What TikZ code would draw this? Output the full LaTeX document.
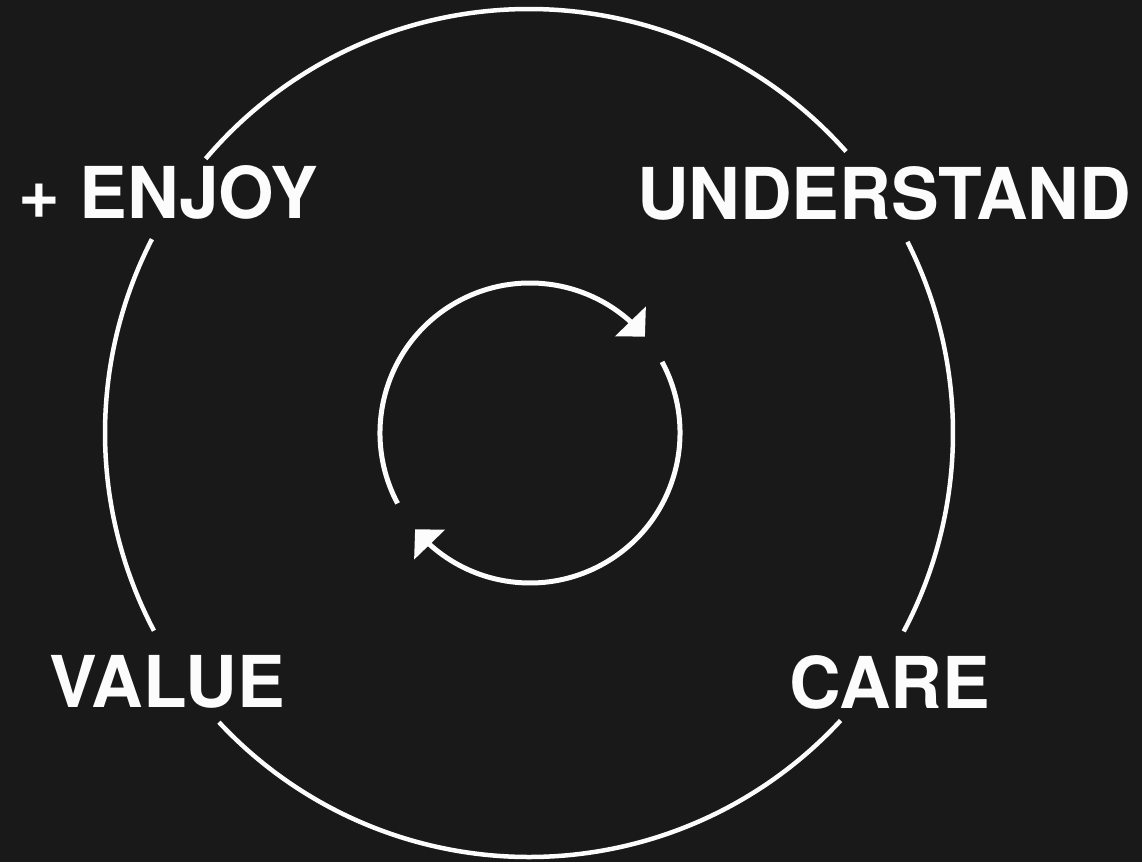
\documentclass[tikz,border=0pt]{standalone}
\usepackage{fontspec}
\setmainfont{TeX Gyre Heros}
\usetikzlibrary{arrows.meta,bending}
\definecolor{bgdark}{RGB}{26,25,26}
\definecolor{fgwhite}{RGB}{252,252,252}
\tikzset{
  outerring/.style={draw=fgwhite,line width=4.5pt},
  innerring/.style={draw=fgwhite,line width=5pt,-{Triangle[length=21pt,width=42pt,flex]}},
  biglabel/.style={text=fgwhite,font=\fontsize{71.5}{86}\selectfont\bfseries,inner sep=0pt,anchor=base}
}
\begin{document}
\begin{tikzpicture}
  \fill[bgdark] (0pt,0pt) rectangle (1142pt,862pt);
  \useasboundingbox (0pt,0pt) rectangle (1142pt,862pt);
  % labels
  \node[biglabel] (enjoy) at (168pt,643pt) {+ ENJOY};
  \node[biglabel] (understand) at (884pt,642pt) {UNDERSTAND};
  \node[biglabel] (value) at (167pt,155pt) {VALUE};
  \node[biglabel] (care) at (890pt,154pt) {CARE};
  % outer ring, broken at the labels
  \begin{scope}[shift={(529pt,429pt)}]
    \draw[outerring] (41.6:424pt) arc[start angle=41.6,end angle=139.7,radius=424pt];
    \draw[outerring] (152.8:424pt) arc[start angle=152.8,end angle=207.8,radius=424pt];
    \draw[outerring] (223:424pt) arc[start angle=223,end angle=317.3,radius=424pt];
    \draw[outerring] (-27.9:424pt) arc[start angle=-27.9,end angle=26.8,radius=424pt];
  \end{scope}
  % inner cycle arrows
  \begin{scope}[shift={(530pt,429pt)}]
    \draw[innerring] (208:150pt) arc[start angle=208,end angle=40,radius=150pt];
    \draw[innerring] (28.3:150pt) arc[start angle=28.3,end angle=-140,radius=150pt];
  \end{scope}
\end{tikzpicture}
\end{document}
